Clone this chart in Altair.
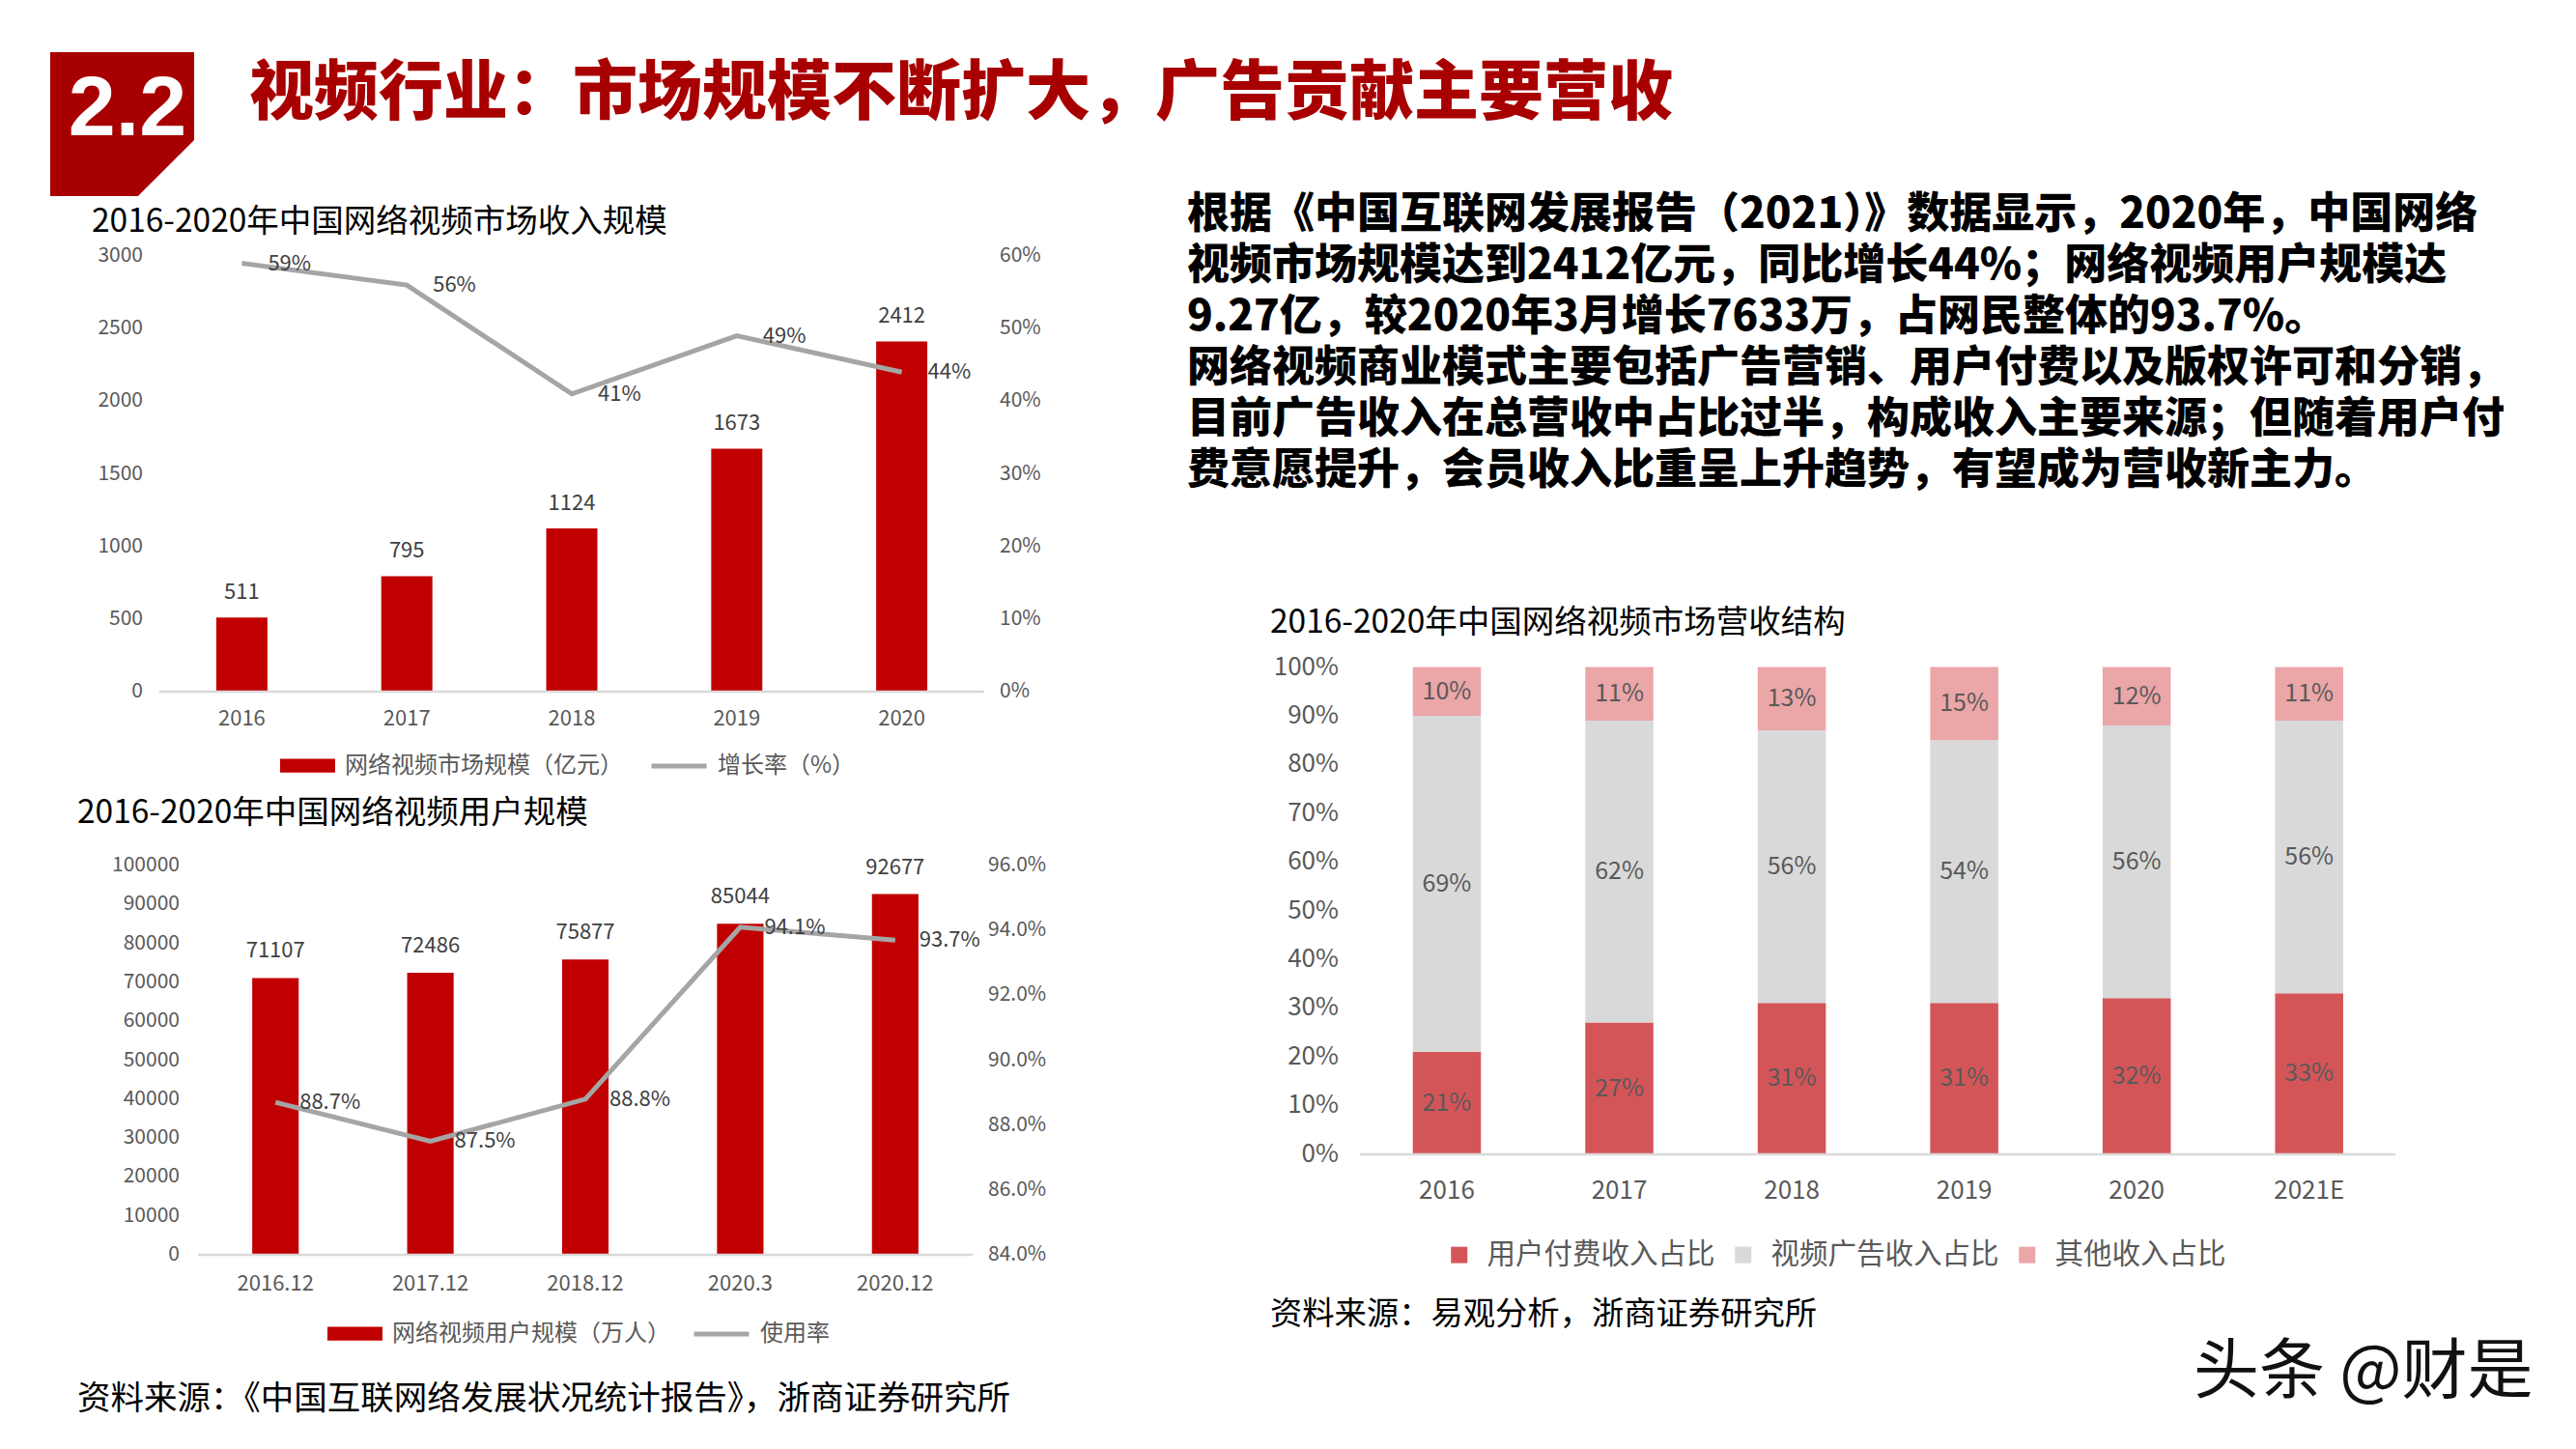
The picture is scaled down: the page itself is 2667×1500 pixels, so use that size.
import altair as alt
import pandas as pd

FONT = "Noto Sans CJK SC"
LATIN = "Liberation Sans"
DARK_RED = "#A80000"
BAR_RED = "#C00000"
LINE_GRAY = "#A5A5A5"
TICK_GRAY = "#595959"
BASE_GRAY = "#D9D9D9"

# ---------------- texts ----------------
heading_no = "2.2"
heading = "视频行业：市场规模不断扩大，广告贡献主要营收"
paragraph = [
    "根据《中国互联网发展报告（2021）》数据显示，2020年，中国网络",
    "视频市场规模达到2412亿元，同比增长44%；网络视频用户规模达",
    "9.27亿，较2020年3月增长7633万，占网民整体的93.7%。",
    "网络视频商业模式主要包括广告营销、用户付费以及版权许可和分销，",
    "目前广告收入在总营收中占比过半，构成收入主要来源；但随着用户付",
    "费意愿提升，会员收入比重呈上升趋势，有望成为营收新主力。",
]
rev_title = "2016-2020年中国网络视频市场收入规模"
user_title = "2016-2020年中国网络视频用户规模"
struct_title = "2016-2020年中国网络视频市场营收结构"
source_left = "资料来源：《中国互联网络发展状况统计报告》，浙商证券研究所"
source_right = "资料来源：易观分析，浙商证券研究所"
watermark = "头条 @财是"

# ---------------- chart 1 data ----------------
rev_years = ["2016", "2017", "2018", "2019", "2020"]
rev_values = [511, 795, 1124, 1673, 2412]
rev_growth = [0.59, 0.56, 0.41, 0.49, 0.44]
rev_left_ticks = [0, 500, 1000, 1500, 2000, 2500, 3000]
rev_right_ticks = [0.0, 0.1, 0.2, 0.3, 0.4, 0.5, 0.6]
rev_series = ["网络视频市场规模（亿元）", "增长率（%）"]

# ---------------- chart 2 data ----------------
user_periods = ["2016.12", "2017.12", "2018.12", "2020.3", "2020.12"]
user_values = [71107, 72486, 75877, 85044, 92677]
user_rate = [0.887, 0.875, 0.888, 0.941, 0.937]
user_left_ticks = [0, 10000, 20000, 30000, 40000, 50000, 60000, 70000, 80000, 90000, 100000]
user_right_ticks = [0.84, 0.86, 0.88, 0.90, 0.92, 0.94, 0.96]
user_series = ["网络视频用户规模（万人）", "使用率"]

# ---------------- chart 3 data ----------------
struct_years = ["2016", "2017", "2018", "2019", "2020", "2021E"]
struct_series = ["用户付费收入占比", "视频广告收入占比", "其他收入占比"]
struct_paid = [21, 27, 31, 31, 32, 33]
struct_ads = [69, 62, 56, 54, 56, 56]
struct_other = [10, 11, 13, 15, 12, 11]
struct_ticks = [0, 10, 20, 30, 40, 50, 60, 70, 80, 90, 100]
struct_colors = ["#D45558", "#D9D9D9", "#EBA6A8"]

RECT_PATH = "M-1,-0.25H1V0.25H-1Z"
HEAD_PATH = "M-1,-1L1,-1L1,0.22L0.22,1L-1,1Z"


def one(text):
    return pd.DataFrame({"t": [text]})


def note(text, x, y, size, color="#000000", weight="normal", align="left",
         font=FONT, baseline="middle"):
    return alt.Chart(one(text)).mark_text(
        align=align, baseline=baseline, font=font, fontSize=size,
        fontWeight=weight, color=color,
    ).encode(text="t:N", x=alt.value(x), y=alt.value(y))


def base_rule(x1, x2, y):
    return alt.Chart(one("")).mark_rule(color=BASE_GRAY, strokeWidth=2.5).encode(
        x=alt.value(x1), x2=alt.value(x2), y=alt.value(y))


def band(domain, lo, hi, inner):
    return alt.Scale(domain=domain, range=[lo, hi], paddingInner=inner,
                     paddingOuter=inner / 2)


def lin(d0, d1, r0, r1):
    return alt.Scale(domain=[d0, d1], range=[r0, r1], nice=False)


def yticks(values, scale, x, align, fmt, size):
    return alt.Chart(pd.DataFrame({"v": values})).mark_text(
        align=align, baseline="middle", font=FONT, fontSize=size, color=TICK_GRAY,
    ).encode(x=alt.value(x), y=alt.Y("v:Q", scale=scale, axis=None),
             text=alt.Text("v:Q", format=fmt))


def xticks(values, scale, y, size):
    return alt.Chart(pd.DataFrame({"c": values})).mark_text(
        align="center", baseline="middle", font=FONT, fontSize=size, color=TICK_GRAY,
    ).encode(x=alt.X("c:N", scale=scale, axis=None), y=alt.value(y), text="c:N")


def legend(x, y, size, shape, offset, fsize, stroke_w=0, colpad=10):
    return alt.Legend(
        orient="none", legendX=x, legendY=y, title=None, direction="horizontal",
        symbolType=shape, symbolSize=size, symbolStrokeWidth=stroke_w,
        symbolOpacity=1, labelFont=FONT, labelFontSize=fsize,
        labelColor=TICK_GRAY, labelOffset=offset, labelLimit=1000, padding=0,
        columnPadding=colpad,
    )


def combo(cats, vals, rates, series, xs, ys, yrs, leg_bar, leg_line,
          bar_dy, line_dx, rate_fmt):
    df = pd.DataFrame({"c": cats, "v": vals, "r": rates,
                       "i": list(range(len(cats))),
                       "sb": series[0], "sl": series[1]})
    X = alt.X("c:N", scale=xs, axis=None)
    bars = alt.Chart(df).mark_bar().encode(
        x=X, y=alt.Y("v:Q", scale=ys, axis=None),
        color=alt.Color("sb:N", scale=alt.Scale(domain=[series[0]], range=[BAR_RED]),
                        legend=leg_bar))
    line = alt.Chart(df).mark_line(strokeWidth=5).encode(
        x=X, y=alt.Y("r:Q", scale=yrs, axis=None), order=alt.Order("i:Q"),
        color=alt.Color("sl:N", scale=alt.Scale(domain=[series[1]], range=[LINE_GRAY]),
                        legend=leg_line))
    bar_lbl = alt.Chart(df).mark_text(
        dy=bar_dy, baseline="middle", font=FONT, fontSize=22, color="#404040",
    ).encode(x=X, y=alt.Y("v:Q", scale=ys, axis=None),
             text=alt.Text("v:Q", format="d"))
    line_lbl = alt.Chart(df).mark_text(
        dx=line_dx, align="left", baseline="middle", font=FONT, fontSize=22,
        color="#404040",
    ).encode(x=X, y=alt.Y("r:Q", scale=yrs, axis=None),
             text=alt.Text("r:Q", format=rate_fmt))
    return [bars, line, bar_lbl, line_lbl]


layers = []

# ---------------- header ----------------
layers.append(alt.Chart(one("")).mark_point(
    shape=HEAD_PATH, size=22201, filled=True, color=DARK_RED, opacity=1,
    strokeWidth=0).encode(x=alt.value(126.5), y=alt.value(128.5)))
layers.append(note(heading_no, 132, 140, 88, color="#FFFFFF", weight="bold",
                   align="center", font=LATIN, baseline="alphabetic"))
layers.append(note(heading, 258, 98, 67, color=DARK_RED, weight=900))

# ---------------- chart 1 ----------------
x1 = band(rev_years, 165, 1019, 0.69)
y1 = lin(0, 3000, 716, 265)
y1r = lin(0, 0.6, 716, 265)
layers.append(note(rev_title, 95, 230, 33.5))
layers += combo(rev_years, rev_values, rev_growth, rev_series, x1, y1, y1r,
                legend(290, 764, 3249, RECT_PATH, 10, 24),
                legend(672, 762, 3249, "stroke", 9, 24, 5),
                -26, 27, ".0%")
layers.append(base_rule(165, 1019, 716))
layers.append(yticks(rev_left_ticks, y1, 148, "right", "d", 21))
layers.append(yticks(rev_right_ticks, y1r, 1035, "left", ".0%", 21))
layers.append(xticks(rev_years, x1, 744, 22))

# ---------------- chart 2 ----------------
x2 = band(user_periods, 205, 1007, 0.70)
y2 = lin(0, 100000, 1299, 896)
y2r = lin(0.84, 0.96, 1299, 896)
layers.append(note(user_title, 80, 842, 33.5))
layers += combo(user_periods, user_values, user_rate, user_series, x2, y2, y2r,
                legend(339, 1352, 3249, RECT_PATH, 10, 24),
                legend(716, 1350, 3249, "stroke", 9, 24, 5),
                -28, 25, ".1%")
layers.append(base_rule(205, 1007, 1299))
layers.append(yticks(user_left_ticks, y2, 186, "right", "d", 21))
layers.append(yticks(user_right_ticks, y2r, 1023, "left", ".1%", 21))
layers.append(xticks(user_periods, x2, 1329, 22))

# ---------------- chart 3 ----------------
x3 = band(struct_years, 1408.7, 2480, 0.605)
y3 = lin(0, 100, 1194.6, 690.6)
rows = []
for i, yr in enumerate(struct_years):
    lo = 0
    for k, vals in enumerate([struct_paid, struct_ads, struct_other]):
        v = vals[i]
        rows.append({"c": yr, "s": struct_series[k], "k": k, "v": v,
                     "mid": lo + v / 2, "lbl": f"{v}%"})
        lo += v
sdf = pd.DataFrame(rows)
X3 = alt.X("c:N", scale=x3, axis=None)
layers.append(note(struct_title, 1315, 645, 33.5))
layers.append(alt.Chart(sdf).mark_bar().encode(
    x=X3, y=alt.Y("v:Q", scale=y3, axis=None, stack="zero"),
    order=alt.Order("k:Q"),
    color=alt.Color("s:N", scale=alt.Scale(domain=struct_series, range=struct_colors),
                    legend=legend(1496, 1284, 289, "square", 14, 29.5, colpad=14))))
layers.append(alt.Chart(sdf).mark_text(
    baseline="middle", font=FONT, fontSize=25, color=TICK_GRAY,
).encode(x=X3, y=alt.Y("mid:Q", scale=y3, axis=None), text="lbl:N"))
layers.append(base_rule(1408, 2480, 1195))
tick_df = pd.DataFrame({"v": struct_ticks, "lbl": [f"{t}%" for t in struct_ticks]})
layers.append(alt.Chart(tick_df).mark_text(
    align="right", baseline="middle", font=FONT, fontSize=26, color=TICK_GRAY,
).encode(x=alt.value(1386), y=alt.Y("v:Q", scale=y3, axis=None), text="lbl:N"))
layers.append(xticks(struct_years, x3, 1233, 26))

# ---------------- paragraph, sources, watermark ----------------
layers.append(alt.Chart(one("")).mark_text(
    text=paragraph, lineHeight=53, align="left", baseline="top", font=FONT,
    fontSize=44, fontWeight=900, color="#000000",
).encode(x=alt.value(1229), y=alt.value(201)))
layers.append(note(source_right, 1315, 1361, 33.3))
layers.append(note(source_left, 80, 1449, 34.5))
layers.append(note(watermark, 2271, 1422, 68, color="#111111"))

chart = alt.layer(*layers).resolve_scale(
    x="independent", y="independent", color="independent"
).properties(
    width=2667, height=1500, autosize="none", padding=0, background="#FFFFFF"
).configure_view(strokeWidth=0)

chart.save("out.html", embed_options={"renderer": "svg", "actions": False})
